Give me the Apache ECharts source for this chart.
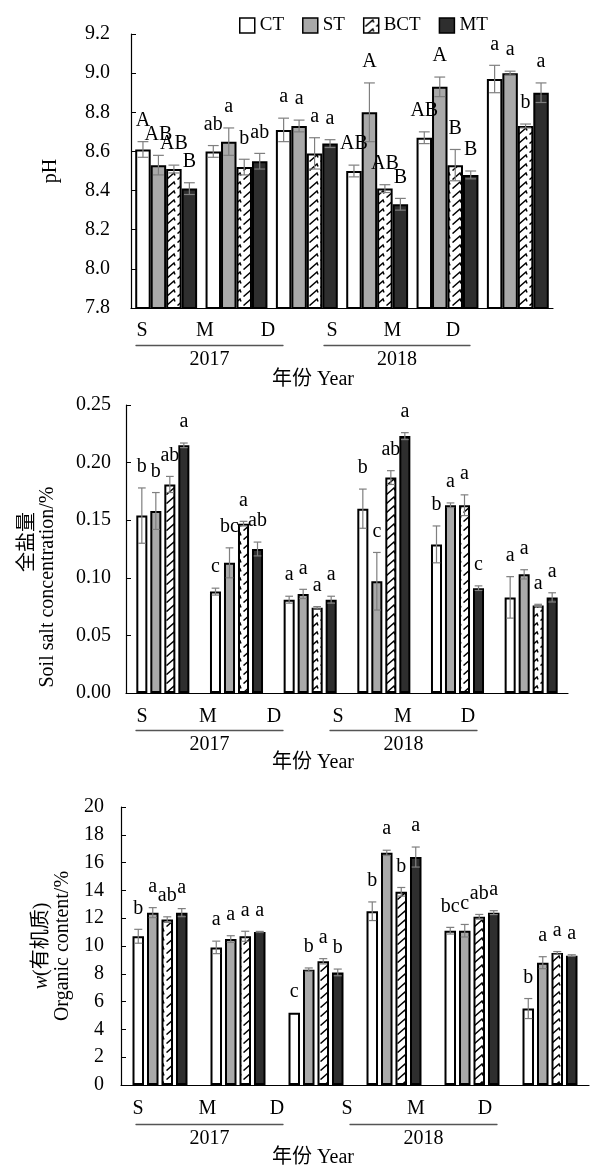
<!DOCTYPE html>
<html>
<head>
<meta charset="utf-8">
<script src="https://cdn.jsdelivr.net/npm/echarts@6/dist/echarts.min.js"></script>
<style>html,body{margin:0;padding:0;background:#fff}#c{width:590px;height:1168px}</style>
</head>
<body>
<div id="c"></div>
<script>
// ---------- data ----------
const treatments = ['CT', 'ST', 'BCT', 'MT'];
const seasons = ['S', 'M', 'D'];
const years = ['2017', '2018'];
const groups = ['2017-S', '2017-M', '2017-D', '2018-S', '2018-M', '2018-D'];

// pH
const pH_CT  = [8.61, 8.60, 8.71, 8.50, 8.67, 8.97];
const pH_ST  = [8.53, 8.65, 8.73, 8.80, 8.93, 9.00];
const pH_BCT = [8.51, 8.52, 8.59, 8.41, 8.53, 8.73];
const pH_MT  = [8.41, 8.55, 8.64, 8.33, 8.48, 8.90];
const pH_err_CT  = [0.04, 0.03, 0.06, 0.03, 0.03, 0.07];
const pH_err_ST  = [0.05, 0.07, 0.03, 0.15, 0.05, 0.01];
const pH_err_BCT = [0.02, 0.04, 0.08, 0.02, 0.08, 0.01];
const pH_err_MT  = [0.03, 0.04, 0.02, 0.03, 0.02, 0.05];
const pH_lab_CT  = ['A', 'ab', 'a', 'AB', 'AB', 'a'];
const pH_lab_ST  = ['AB', 'a', 'a', 'A', 'A', 'a'];
const pH_lab_BCT = ['AB', 'b', 'a', 'AB', 'B', 'b'];
const pH_lab_MT  = ['B', 'ab', 'a', 'B', 'B', 'a'];

// soil salt concentration (%)
const salt_CT  = [0.154, 0.088, 0.081, 0.160, 0.129, 0.083];
const salt_ST  = [0.158, 0.113, 0.086, 0.097, 0.163, 0.103];
const salt_BCT = [0.181, 0.147, 0.074, 0.187, 0.163, 0.076];
const salt_MT  = [0.215, 0.125, 0.081, 0.223, 0.091, 0.083];
const salt_err_CT  = [0.024, 0.003, 0.003, 0.017, 0.016, 0.018];
const salt_err_ST  = [0.016, 0.013, 0.004, 0.025, 0.002, 0.004];
const salt_err_BCT = [0.007, 0.002, 0.001, 0.006, 0.009, 0.001];
const salt_err_MT  = [0.002, 0.006, 0.003, 0.003, 0.002, 0.004];
const salt_lab_CT  = ['b', 'c', 'a', 'b', 'b', 'a'];
const salt_lab_ST  = ['b', 'bc', 'a', 'c', 'a', 'a'];
const salt_lab_BCT = ['ab', 'a', 'a', 'ab', 'a', 'a'];
const salt_lab_MT  = ['a', 'ab', 'a', 'a', 'c', 'a'];

// organic content (%)
const org_CT  = [10.7, 9.9, 5.2, 12.5, 11.1, 5.5];
const org_ST  = [12.4, 10.5, 8.3, 16.7, 11.1, 8.8];
const org_BCT = [11.9, 10.7, 8.9, 13.9, 12.1, 9.5];
const org_MT  = [12.4, 11.0, 8.1, 16.4, 12.4, 9.3];
const org_err_CT  = [0.50, 0.45, 0.00, 0.67, 0.24, 0.72];
const org_err_ST  = [0.36, 0.24, 0.12, 0.19, 0.45, 0.43];
const org_err_BCT = [0.20, 0.36, 0.19, 0.31, 0.17, 0.10];
const org_err_MT  = [0.29, 0.05, 0.24, 0.72, 0.14, 0.07];
const org_lab_CT  = ['b', 'a', 'c', 'b', 'bc', 'b'];
const org_lab_ST  = ['a', 'a', 'b', 'a', 'c', 'a'];
const org_lab_BCT = ['ab', 'a', 'a', 'b', 'ab', 'a'];
const org_lab_MT  = ['a', 'a', 'b', 'a', 'a', 'a'];

// ---------- styling ----------
const FONT = '"Liberation Serif","Noto Sans CJK SC",serif';
function makePattern() {
  const c = document.createElement('canvas');
  c.width = 11; c.height = 9;
  const x = c.getContext('2d');
  x.fillStyle = '#fff'; x.fillRect(0, 0, 11, 9);
  x.strokeStyle = '#000'; x.lineWidth = 1.5;
  x.beginPath();
  x.moveTo(1.5, 8.5); x.lineTo(9, 2);
  x.lineTo(10, 4.5);
  x.stroke();
  return c;
}
const fills = ['#ffffff', '#a9a9a9', { image: makePattern(), repeat: 'repeat' }, '#2e2e2e'];

const panels = [
  {
    vals: [pH_CT, pH_ST, pH_BCT, pH_MT], errs: [pH_err_CT, pH_err_ST, pH_err_BCT, pH_err_MT],
    labs: [pH_lab_CT, pH_lab_ST, pH_lab_BCT, pH_lab_MT],
    main: { left: 131, top: 34, width: 422, height: 274 },
    y: { min: 7.8, max: 9.2, interval: 0.2, dec: 1, margin: 21 },
    cg: 0.12, g: 0,
    name: 'pH', nameGap: 70, rich: null,
    seasonY: 332, s17: [110.5, 189], s18: [301.75, 181.5],
    lineY: 345, l17: [136, 147], l18: [324, 146], titleY: 380
  },
  {
    vals: [salt_CT, salt_ST, salt_BCT, salt_MT], errs: [salt_err_CT, salt_err_ST, salt_err_BCT, salt_err_MT],
    labs: [salt_lab_CT, salt_lab_ST, salt_lab_BCT, salt_lab_MT],
    main: { left: 126, top: 405, width: 442, height: 288 },
    y: { min: 0, max: 0.25, interval: 0.05, dec: 2, margin: 15 },
    cg: 0.28, g: 0.27,
    name: '{a|全盐量}\n{b|Soil salt concentration/%}', nameGap: 68,
    rich: {
      a: { fontFamily: FONT, fontSize: 20, lineHeight: 20, color: '#000', padding: [0, 0, 0, 14] },
      b: { fontFamily: FONT, fontSize: 20, lineHeight: 20, color: '#000', padding: [0, 76, 0, 0] }
    },
    seasonY: 718, s17: [109, 198], s18: [305.5, 195],
    lineY: 730, l17: [136, 147], l18: [330, 147], titleY: 763
  },
  {
    vals: [org_CT, org_ST, org_BCT, org_MT], errs: [org_err_CT, org_err_ST, org_err_BCT, org_err_MT],
    labs: [org_lab_CT, org_lab_ST, org_lab_BCT, org_lab_MT],
    main: { left: 121, top: 807, width: 468, height: 278 },
    y: { min: 0, max: 20, interval: 2, dec: 0, margin: 17 },
    cg: 0.295, g: 0.26,
    name: '{w|w}{a|(有机质)}\n{b|Organic content/%}', nameGap: 46,
    rich: {
      w: { fontFamily: FONT, fontSize: 20, lineHeight: 21, color: '#000', fontStyle: 'italic' },
      a: { fontFamily: FONT, fontSize: 20, lineHeight: 21, color: '#000' },
      b: { fontFamily: FONT, fontSize: 20, lineHeight: 21, color: '#000' }
    },
    seasonY: 1110, s17: [103.25, 208.5], s18: [312.5, 207],
    lineY: 1124, l17: [136, 147], l18: [350, 147], titleY: 1158
  }
];

const grid = [], xAxis = [], yAxis = [], series = [], graphic = [];
const txt = { fontFamily: FONT, fontSize: 20, color: '#000' };

panels.forEach((P, p) => {
  const base = p * 5;
  grid.push(P.main);
  xAxis.push({
    type: 'category', gridIndex: base, data: groups,
    axisLine: { lineStyle: { color: '#000', width: 1.2 } },
    axisTick: { inside: true, length: 5, lineStyle: { color: '#000' } },
    axisLabel: { show: false }, splitLine: { show: false }
  });
  yAxis.push({
    type: 'value', gridIndex: base, min: P.y.min, max: P.y.max, interval: P.y.interval,
    name: P.name, nameLocation: 'middle', nameGap: P.nameGap, nameRotate: 90,
    nameTextStyle: Object.assign({}, txt, P.rich ? { rich: P.rich } : {}),
    axisLine: { show: true, lineStyle: { color: '#000', width: 1.2 } },
    axisTick: { show: true, inside: true, length: 5, lineStyle: { color: '#000' } },
    axisLabel: Object.assign({ margin: P.y.margin, formatter: v => v.toFixed(P.y.dec) }, txt),
    splitLine: { show: false }
  });
  [P.s17, P.s18].forEach((s, k) => {
    grid.push({ left: s[0], width: s[1], top: P.seasonY - 14, height: 1 });
    xAxis.push({
      type: 'category', gridIndex: base + 1 + k, data: seasons,
      axisLine: { show: false }, axisTick: { show: false },
      axisLabel: Object.assign({ margin: 2, lineHeight: 20 }, txt)
    });
    yAxis.push({ type: 'value', gridIndex: base + 1 + k, show: false });
  });
  [P.l17, P.l18].forEach((l, k) => {
    grid.push({ left: l[0], width: l[1], top: P.lineY - 1, height: 1 });
    xAxis.push({
      type: 'category', gridIndex: base + 3 + k, data: [years[k]],
      axisLine: { show: true, lineStyle: { color: '#555', width: 1.3 } }, axisTick: { show: false },
      axisLabel: Object.assign({ margin: 5, lineHeight: 20 }, txt)
    });
    yAxis.push({ type: 'value', gridIndex: base + 3 + k, show: false });
  });
  graphic.push({
    type: 'text', x: 313, y: P.titleY, silent: true,
    style: { text: '年份 Year', font: '20px ' + FONT, fill: '#000', align: 'center', verticalAlign: 'middle' }
  });

  treatments.forEach((t, s) => {
    series.push({
      type: 'bar', name: t, xAxisIndex: base, yAxisIndex: base,
      data: P.vals[s], barGap: (P.g * 100) + '%', barCategoryGap: (P.cg * 100) + '%',
      itemStyle: { color: fills[s], borderColor: '#000', borderWidth: 2 },
      silent: true, animation: false
    });
  });
  treatments.forEach((t, s) => {
    const labs = P.labs[s];
    series.push({
      type: 'custom', name: t + '-err', xAxisIndex: base, yAxisIndex: base,
      data: P.vals[s].map((v, i) => [i, v, P.errs[s][i]]),
      silent: true, animation: false, z: 5,
      renderItem: (params, api) => {
        const ci = api.value(0), v = api.value(1), e = api.value(2);
        const band = api.size([1, 0])[0];
        const bw = band * (1 - P.cg) / (4 + 3 * P.g);
        const x = api.coord([ci, v])[0] + (s - 1.5) * bw * (1 + P.g);
        const yTop = api.coord([ci, v + e])[1];
        const yBot = api.coord([ci, v - e])[1];
        const cap = bw * 0.35;
        const st = { stroke: '#7f7f7f', lineWidth: 1.2 };
        const children = [];
        if (e > 0) {
          children.push({ type: 'line', shape: { x1: x, y1: yTop, x2: x, y2: yBot }, style: st });
          children.push({ type: 'line', shape: { x1: x - cap, y1: yTop, x2: x + cap, y2: yTop }, style: st });
          children.push({ type: 'line', shape: { x1: x - cap, y1: yBot, x2: x + cap, y2: yBot }, style: st });
        }
        children.push({
          type: 'text',
          style: { text: labs[params.dataIndex], x: x, y: yTop - 11, align: 'center', verticalAlign: 'bottom',
                   font: '20px ' + FONT, fill: '#000' }
        });
        return { type: 'group', children };
      }
    });
  });
});

const chart = echarts.init(document.getElementById('c'), null, { renderer: 'canvas' });
chart.setOption({
  backgroundColor: '#fff',
  animation: false,
  legend: {
    top: 11, left: 234, itemWidth: 15, itemHeight: 15, itemGap: 18, icon: 'rect',
    data: treatments, textStyle: { fontFamily: FONT, fontSize: 19, color: '#000' },
    itemStyle: { borderColor: '#000', borderWidth: 1.5 }
  },
  grid, xAxis, yAxis, series, graphic
});
</script>
</body>
</html>
